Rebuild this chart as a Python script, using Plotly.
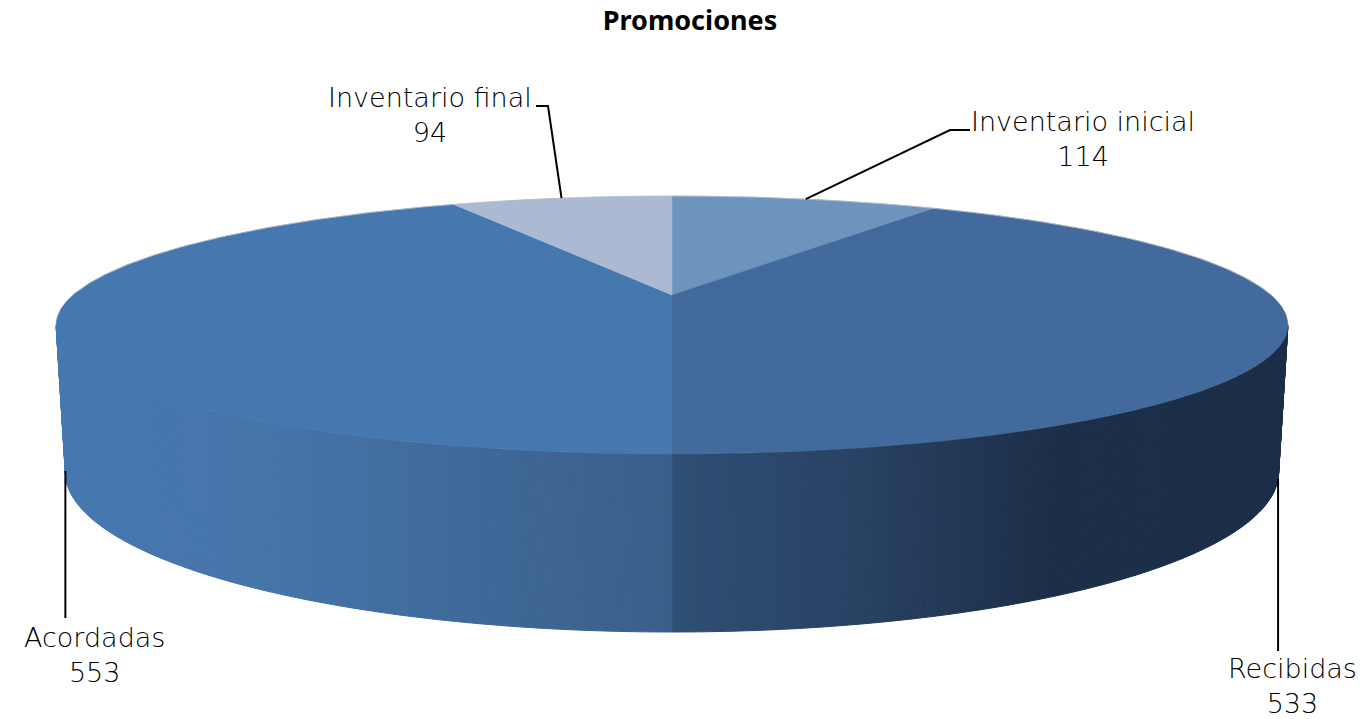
import math
import plotly.graph_objects as go

title = "Promociones"
categories = ["Inventario inicial", "Recibidas", "Acordadas", "Inventario final"]
values = [114, 533, 553, 94]
top_colors = ["#6d94bd", "#426a9c", "#4678b0", "#abb9d2"]

# Perspective model of the 3D disc in page pixels
CX = 672
K = 0.2326
TOP = dict(A=295.0, B=-53.4, C=599.0)
BOT = dict(A=472 - 160 * K, B=-160 + 472 * K, C=590.0)
# side shading stops: (page x, r, g, b)
side_stops = [(60, 70, 120, 176), (250, 70, 117, 170), (671, 58, 94, 138),
              (672, 46, 78, 115), (840, 42, 67, 102), (1050, 28, 47, 72), (1290, 28, 46, 71)]

# leader geometry: rim ("top"/"bottom"), then elbow points, label centre
leaders = {
    "Inventario inicial": dict(rim=TOP, pts=[(950, 130), (970, 130)], lab=(1083, 139)),
    "Recibidas": dict(rim=BOT, pts=[(None, 651)], lab=(1292, 686)),
    "Acordadas": dict(rim=BOT, pts=[(None, 618)], lab=(94, 655)),
    "Inventario final": dict(rim=TOP, pts=[(548, 106), (536, 106)], lab=(430, 115)),
}


def proj(deg, rim):
    a = math.radians(deg)
    u, v = math.sin(a), math.cos(a)
    d = 1 + K * v
    return CX + rim["C"] * u / d, (rim["A"] + rim["B"] * v) / d


def arc(d0, d1, rim, step=0.5):
    n = max(2, int(abs(d1 - d0) / step))
    return [proj(d0 + (d1 - d0) * i / n, rim) for i in range(n + 1)]


def side_color(x):
    for (x0, *c0), (x1, *c1) in zip(side_stops, side_stops[1:]):
        if x <= x1:
            t = max(0, (x - x0) / (x1 - x0))
            return "rgb(%d,%d,%d)" % tuple(round(p + (q - p) * t) for p, q in zip(c0, c1))
    return "rgb(%d,%d,%d)" % tuple(side_stops[-1][1:])


fig = go.Figure()
total = sum(values)
sweep = [v / total * 360 for v in values]
edges = [0]
for s in sweep:
    edges.append(edges[-1] + s)

# side wall, drawn as thin strips
start = 90 + math.degrees(math.asin(K))
end = 360 - start
n = 240
for i in range(n):
    d0 = start + (end - start) * i / n
    d1 = start + (end - start) * (i + 1) / n
    p = [proj(d0, TOP), proj(d1, TOP), proj(d1, BOT), proj(d0, BOT), proj(d0, TOP)]
    c = side_color(sum(q[0] for q in p[:4]) / 4)
    fig.add_trace(go.Scatter(x=[q[0] for q in p], y=[q[1] for q in p], mode="lines",
                             fill="toself", fillcolor=c, line=dict(color=c, width=1),
                             hoverinfo="skip", showlegend=False))

# top slices
for name, c, d0, d1 in zip(categories, top_colors, edges, edges[1:]):
    pts = [(CX, TOP["A"])] + arc(d0, d1, TOP) + [(CX, TOP["A"])]
    fig.add_trace(go.Scatter(x=[q[0] for q in pts], y=[q[1] for q in pts], mode="lines",
                             fill="toself", fillcolor=c, line=dict(color=c, width=0.5),
                             name=name, hoverinfo="name", showlegend=False))

# thin rim highlight at the back
back = arc(-start + 15, start - 15, TOP)
fig.add_trace(go.Scatter(x=[q[0] for q in back], y=[q[1] for q in back], mode="lines",
                         line=dict(color="#b4bcc8", width=0.8), hoverinfo="skip", showlegend=False))

# leader lines and labels
annotations = []
for name, val, d0, d1 in zip(categories, values, edges, edges[1:]):
    L = leaders[name]
    sx, sy = proj((d0 + d1) / 2, L["rim"])
    xs, ys = [sx], [sy]
    for px, py in L["pts"]:
        xs.append(sx if px is None else px)
        ys.append(py)
    fig.add_trace(go.Scatter(x=xs, y=ys, mode="lines", line=dict(color="#000000", width=2),
                             hoverinfo="skip", showlegend=False))
    annotations.append(dict(x=L["lab"][0], y=L["lab"][1], xref="x", yref="y", showarrow=False,
                            text=f"{name}<br>{val}", align="center", xanchor="center",
                            yanchor="middle",
                            font=dict(family="DejaVu Sans", size=27, weight=200, color="#000000")))

fig.update_layout(
    width=1366, height=719, margin=dict(l=0, r=0, t=0, b=0),
    paper_bgcolor="white", plot_bgcolor="white", showlegend=False,
    xaxis=dict(range=[0, 1366], visible=False, fixedrange=True),
    yaxis=dict(range=[719, 0], visible=False, fixedrange=True),
    title=dict(text=f"<b>{title}</b>", x=690 / 1366, y=1 - 21 / 719, xanchor="center", yanchor="middle",
               font=dict(family="Noto Sans", size=27, color="#000000")),
    annotations=annotations,
)
fig.write_html("out.html", config={"displayModeBar": False},
               post_script="document.body.style.margin='0';")
